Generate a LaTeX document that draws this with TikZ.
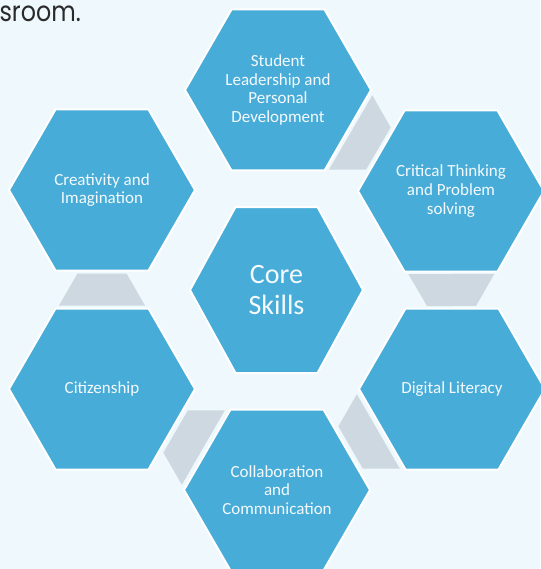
\documentclass[tikz,border=0pt]{standalone}
\usepackage{fontspec}
\setmainfont{Carlito}
\newfontfamily\captionfont[FakeStretch=0.85]{Poppins}
\usetikzlibrary{calc}
\definecolor{pagebg}{HTML}{EEF8FD}
\definecolor{hexblue}{HTML}{48ACD8}
\definecolor{linkgrey}{HTML}{CDD8E0}
\definecolor{labeltext}{HTML}{F4FAFD}
\definecolor{inktext}{HTML}{2A2A2A}

% flat-topped hexagon: centre, half width, half top edge, half height
\newcommand\drawhex[4]{%
  \path[hexcell] ($(#1)+(-#2,0)$) -- ($(#1)+(-#3,-#4)$) -- ($(#1)+(#3,-#4)$)
    -- ($(#1)+(#2,0)$) -- ($(#1)+(#3,#4)$) -- ($(#1)+(-#3,#4)$) -- cycle;}

\begin{document}
\begin{tikzpicture}[x=1pt,y=-1pt,
  hexcell/.style={fill=hexblue, draw=white, line width=2pt, line join=miter},
  link/.style={fill=linkgrey},
  skill/.style={text=labeltext, align=center, inner sep=0pt,
    font=\fontsize{17}{18.6}\selectfont},
  coreskill/.style={skill, font=\fontsize{28}{31}\selectfont}]
\useasboundingbox (0,0) rectangle (540,569);
\fill[pagebg] (0,0) rectangle (540,569);

% tail of the sentence above the graphic
\node[anchor=base east, text=inktext, inner sep=0pt,
  font=\captionfont\fontsize{28}{30}\selectfont] (caption) at (81,22) {sroom.};

% cell centres
\coordinate (stu) at (278,90);
\coordinate (crit) at (451,191);
\coordinate (dig) at (452,389);
\coordinate (col) at (277,490);
\coordinate (cit) at (102,389);
\coordinate (cre) at (102,190);
\coordinate (core) at (276.5,290);

% grey links between neighbouring cells (wide end at the first cell)
\foreach \p/\q in {stu/crit, crit/dig, dig/col, col/cit, cit/cre}{
  \path ($(\p)!0.5!(\q)$) coordinate (m);
  \path ($(m)!16pt!(\p)$) coordinate (w) ($(m)!16pt!(\q)$) coordinate (n);
  \fill[link] ($(w)!43pt!90:(\q)$) -- ($(n)!24.5pt!90:(\q)$)
    -- ($(n)!24.5pt!-90:(\q)$) -- ($(w)!43pt!-90:(\q)$) -- cycle;
}

% cells
\foreach \c in {stu, crit, dig, col, cit, cre}{\drawhex{\c}{93}{46.5}{80.5}}
\drawhex{core}{86.5}{41}{83}

% labels
\node[skill] (lstu) at (stu) {Student\\Leadership and\\Personal\\Development};
\node[skill] (lcrit) at (crit) {Critical Thinking\\and Problem\\solving};
\node[skill] (ldig) at (dig) {Digital Literacy};
\node[skill] (lcol) at (col) {Collaboration\\and\\Communication};
\node[skill] (lcit) at (cit) {Citizenship};
\node[skill] (lcre) at (cre) {Creativity and\\Imagination};
\node[coreskill] (lcore) at (core) {Core\\Skills};
\end{tikzpicture}
\end{document}
